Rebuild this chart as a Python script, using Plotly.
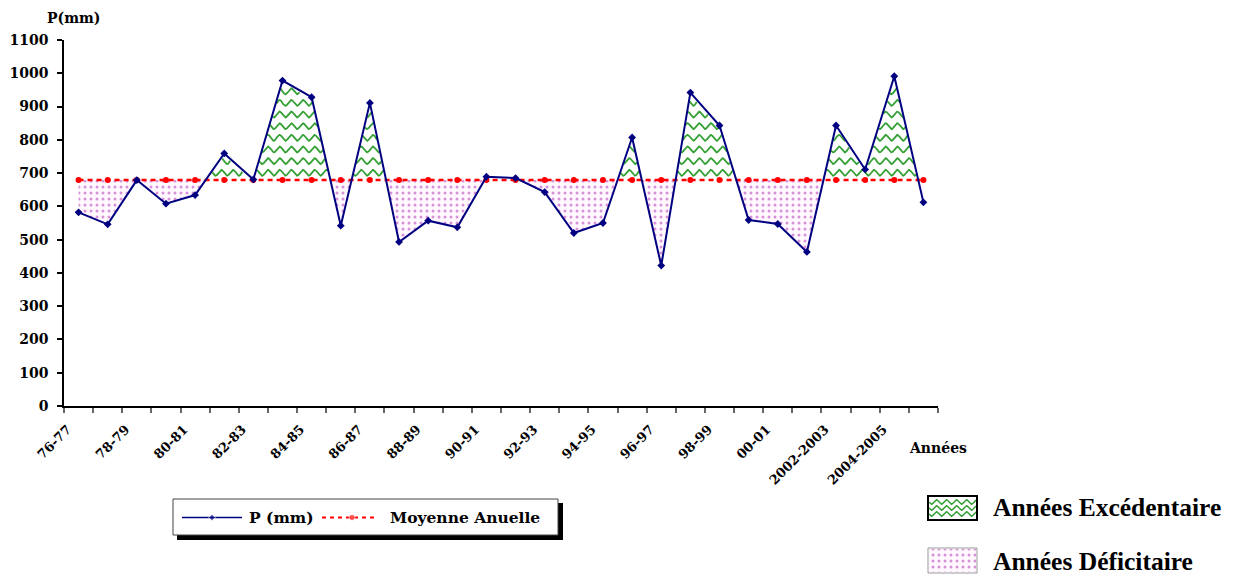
import numpy as np
import plotly.graph_objects as go

W, H = 1247, 577

# ---- data -----------------------------------------------------------------
campagnes = ["76-77", "77-78", "78-79", "79-80", "80-81", "81-82", "82-83", "83-84",
             "84-85", "85-86", "86-87", "87-88", "88-89", "89-90", "90-91", "91-92",
             "92-93", "93-94", "94-95", "95-96", "96-97", "97-98", "98-99", "99-00",
             "00-01", "01-02", "2002-2003", "2003-2004", "2004-2005", "2005-2006"]
precip_mm = [582, 546, 679, 608, 634, 759, 681, 978, 928, 542,
             911, 493, 557, 537, 689, 685, 643, 520, 550, 807,
             422, 942, 843, 559, 547, 463, 843, 711, 991, 612]
moyenne_annuelle = 679
y_tick_values = list(range(0, 1101, 100))
label_step = 2  # every other campaign is labelled

# ---- styling --------------------------------------------------------------
SPACED = "DejaVu Serif"
SERIF = "Liberation Serif"
NAVY = "#000080"
RED = "#FF0000"
GREEN = "#35A035"
PINK_FG = "#B02AB0"
PINK_BG = "#FFF8FF"
dots = dict(shape=".", fgcolor=PINK_FG, bgcolor=PINK_BG, size=6, solidity=0.2)

n = len(precip_mm)
idx = np.arange(n, dtype=float)
p = np.array(precip_mm, dtype=float)
m = float(moyenne_annuelle)

# polyline of the rainfall with the crossings of the mean inserted
xs, ys = [], []
for i in range(n):
    xs.append(idx[i])
    ys.append(p[i])
    if i < n - 1:
        d0, d1 = p[i] - m, p[i + 1] - m
        if d0 * d1 < 0:
            xs.append(idx[i] + d0 / (d0 - d1))
            ys.append(m)
xs = np.array(xs)
ys = np.array(ys)
y_deficit = np.minimum(ys, m)

fig = go.Figure()

# deficit area (dotted) between the mean and the rainfall
fig.add_trace(go.Scatter(x=xs, y=np.full_like(xs, m), mode="lines",
                         line=dict(width=0), hoverinfo="skip", showlegend=False))
fig.add_trace(go.Scatter(x=xs, y=y_deficit, mode="lines", line=dict(width=0),
                         fill="tonexty", fillpattern=dots,
                         hoverinfo="skip", showlegend=False))

# surplus area: wavy hatching clipped between the mean and the rainfall
xf = np.linspace(0, n - 1, 8000)
pf = np.interp(xf, idx, p)
wave_x, wave_y = [], []
for base in np.arange(m + 22, p.max(), 35):
    yw = base + 9 * np.sin(2 * np.pi * xf / 0.4)
    ok = (yw > m + 4) & (yw < pf - 6)
    wave_x.extend(xf.tolist() + [None])
    wave_y.extend([v if k else None for v, k in zip(yw.tolist(), ok)] + [None])
fig.add_trace(go.Scatter(x=wave_x, y=wave_y, mode="lines", connectgaps=False,
                         line=dict(color=GREEN, width=1.8),
                         hoverinfo="skip", showlegend=False))

# mean line
fig.add_trace(go.Scatter(x=idx, y=[m] * n, mode="lines+markers", name="Moyenne Anuelle",
                         line=dict(color=RED, width=2.5, dash="5px,4px"),
                         marker=dict(color=RED, size=6, symbol="circle"),
                         showlegend=False))
# annual rainfall
fig.add_trace(go.Scatter(x=idx, y=p, mode="lines+markers", name="P (mm)",
                         line=dict(color=NAVY, width=2),
                         marker=dict(color=NAVY, size=6, symbol="diamond"),
                         showlegend=False))

# ---- hand-made legends, drawn on a pixel-space overlay axis ---------------
ov = dict(xaxis="x2", yaxis="y2", hoverinfo="skip", showlegend=False)
shapes = [
    dict(type="rect", xref="x2", yref="y2", x0=177, y0=503, x1=563, y1=540,
         fillcolor="black", line=dict(width=0), layer="below"),
    dict(type="rect", xref="x2", yref="y2", x0=173, y0=499, x1=558, y1=535,
         fillcolor="white", line=dict(color="#444", width=1), layer="below"),
    dict(type="rect", xref="x2", yref="y2", x0=928, y0=496, x1=977, y1=520,
         line=dict(color="black", width=2)),
    dict(type="rect", xref="x2", yref="y2", x0=928, y0=548, x1=977, y1=573,
         line=dict(color="#999", width=1)),
]
fig.add_trace(go.Scatter(x=[182, 212, 242], y=[517.5] * 3, mode="lines+markers",
                         line=dict(color=NAVY, width=1.5),
                         marker=dict(color=NAVY, size=[0, 5, 0], symbol="diamond"), **ov))
fig.add_trace(go.Scatter(x=[322, 352, 378], y=[517.5] * 3, mode="lines+markers",
                         line=dict(color=RED, width=2, dash="4px,4px"),
                         marker=dict(color=RED, size=[0, 6, 0]), **ov))
sx = np.linspace(929, 976, 300)
lw_x, lw_y = [], []
for row in (502, 508, 514):
    lw_x.extend(sx.tolist() + [None])
    lw_y.extend((row + 2.2 * np.sin(2 * np.pi * (sx - 929) / 10)).tolist() + [None])
fig.add_trace(go.Scatter(x=lw_x, y=lw_y, mode="lines",
                         line=dict(color=GREEN, width=1.5), **ov))
fig.add_trace(go.Scatter(x=[929, 976, 976, 929, 929], y=[549, 549, 572, 572, 549],
                         mode="lines", line=dict(width=0), fill="toself",
                         fillpattern=dots, **ov))


def note(text, x, y, size, family=SPACED, xanchor="center"):
    return dict(text=text, x=x, y=y, xref="x2", yref="y2", showarrow=False,
                xanchor=xanchor, yanchor="middle",
                font=dict(family=family, size=size, color="black", weight="bold"))


annotations = [
    note("P(mm)", 73, 17.5, 14),
    note("Années", 938, 448, 14),
    note("P (mm)", 247, 517.5, 15.5, xanchor="left"),
    note("Moyenne Anuelle", 388, 517.5, 15.5, xanchor="left"),
    note("Années Excédentaire", 991, 507, 25.5, family=SERIF, xanchor="left"),
    note("Années Déficitaire", 991, 561, 25.5, family=SERIF, xanchor="left"),
]

tick_idx = list(range(0, n, label_step))
fig.update_layout(
    width=W, height=H, autosize=False,
    margin=dict(l=0, r=0, t=0, b=0, pad=0),
    paper_bgcolor="white", plot_bgcolor="rgba(0,0,0,0)",
    shapes=shapes, annotations=annotations,
    xaxis=dict(domain=[64 / W, 938 / W], range=[-0.5, n - 0.5], automargin=False,
               tickmode="array", tickvals=tick_idx,
               ticktext=[campagnes[i] for i in tick_idx],
               tickangle=-45, ticks="", showgrid=False, zeroline=False,
               showline=True, linecolor="black", linewidth=1.5,
               ticklabelstandoff=9, ticklabelshift=-11,
               tickfont=dict(family=SPACED, size=13, color="black", weight="bold"),
               minor=dict(tickmode="linear", tick0=-0.5, dtick=1, ticks="outside",
                          ticklen=5, tickwidth=1.5, tickcolor="#666", showgrid=False)),
    yaxis=dict(domain=[1 - 406 / H, 1 - 40 / H], range=[0, 1100], automargin=False,
               tickmode="array", tickvals=y_tick_values,
               ticks="outside", ticklen=5, tickwidth=1.5, tickcolor="black",
               showgrid=False, zeroline=False,
               showline=True, linecolor="black", linewidth=1.5,
               ticklabelstandoff=6,
               tickfont=dict(family=SPACED, size=14, color="black", weight="bold")),
    xaxis2=dict(domain=[0, 1], range=[0, W], visible=False, anchor="y2",
                fixedrange=True, automargin=False),
    yaxis2=dict(domain=[0, 1], range=[H, 0], visible=False, anchor="x2",
                fixedrange=True, automargin=False),
)

fig.write_html("out.html")
